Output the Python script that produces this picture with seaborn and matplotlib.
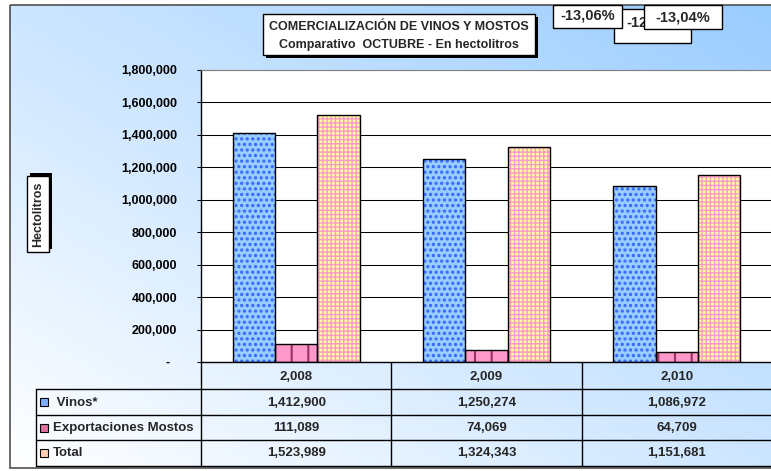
import numpy as np
import pandas as pd
import seaborn as sns
import matplotlib.pyplot as plt
from matplotlib.patches import Rectangle
from matplotlib.ticker import FuncFormatter

years = [2008, 2009, 2010]
series = ['Vinos*', 'Exportaciones Mostos', 'Total']
vinos = [1412900, 1250274, 1086972]
mostos = [111089, 74069, 64709]
total = [1523989, 1324343, 1151681]
variaciones = ['-13,06%', '-12', '-13,04%']

fill_cols = ['#99CCFF', '#FF99CC', '#FFFF99']
hatch_cols = ['#3366FF', '#993366', '#FF99CC']
key_cols = ['#7FAEFF', '#E0709F', '#FFCCB0']
hatches = ['...', '|', '++++']
hatch_lw = [1.5, 1.5, 1.0]

sns.set_style('ticks')
plt.rcParams['font.family'] = ['Liberation Sans', 'DejaVu Sans']
plt.rcParams['font.weight'] = 'bold'
plt.rcParams['hatch.linewidth'] = 1.5

W, H = 771, 471
fig = plt.figure(figsize=(W/100, H/100), dpi=100)

# background (chart area) in pixel coords
bg = fig.add_axes([0, 0, 1, 1], zorder=-10)
bg.set_xlim(0, W)
bg.set_ylim(H, 0)
bg.axis('off')
gx = np.linspace(0, 1, 200)
gy = np.linspace(1, 0, 200)
t = (gx[None, :] + gy[:, None]) / 2
blue = np.array([0x99, 0xCC, 0xFF]) / 255
grad = (1 - t[..., None]) * np.ones(3) + t[..., None] * blue
bg.imshow(grad, extent=(10, 790, 468, 5), aspect='auto', interpolation='bilinear')
bg.add_patch(Rectangle((10, 5), 780, 463, fill=False, ec='#505050', lw=1.2))

# plot
ax = fig.add_axes([201/W, (H-362)/H, 571/W, 292/H])
rows = []
for name, vals in zip(series, [vinos, mostos, total]):
    for y, v in zip(years, vals):
        rows.append({'year': f'{y:,}', 'serie': name, 'value': v})
df = pd.DataFrame(rows)

sns.barplot(data=df, x='year', y='value', hue='serie', hue_order=series,
            order=[f'{y:,}' for y in years], palette=fill_cols, saturation=1,
            width=0.667, errorbar=None, legend=False, ax=ax)

bars = list(ax.patches)
for k, p in enumerate(bars):
    j = k // len(years)
    p.set_hatch(hatches[j])
    p.set_edgecolor(hatch_cols[j])
    p.set_linewidth(0)
    if hasattr(p, 'set_hatch_linewidth'):
        p.set_hatch_linewidth(hatch_lw[j])
    ax.add_patch(Rectangle(p.get_xy(), p.get_width(), p.get_height(), fill=False,
                           ec='black', lw=1, zorder=p.get_zorder() + 0.1))

ax.set_xlim(-0.5, len(years) - 0.5)
ax.set_ylim(0, 1800000)
ax.set_yticks(np.arange(0, 1800001, 200000))
ax.yaxis.set_major_formatter(FuncFormatter(lambda v, pos: '-\u00a0\u00a0' if v == 0 else f'{v:,.0f}'))
ax.yaxis.grid(True, color='black', lw=0.75)
ax.set_axisbelow(True)
ax.set_facecolor('white')
ax.set_xlabel('')
ax.set_ylabel('')
ax.tick_params(axis='x', bottom=False, labelbottom=False)
ax.tick_params(axis='y', direction='out', length=3, width=0.75, pad=14, labelsize=9, colors='black')
for lab in ax.get_yticklabels():
    lab.set_fontweight('bold')
ax.spines['right'].set_visible(False)
ax.spines['top'].set_color('#808080')
ax.spines['left'].set_color('black')
ax.spines['bottom'].set_color('black')
ax.spines['left'].set_linewidth(1)
ax.spines['bottom'].set_linewidth(1)

# data table below the plot
def px(v):
    return ax.transData.transform((v, 0))[0]

xb = [px(i - 0.5) for i in range(len(years) + 1)]
row_y = [362, 389, 415, 440, 466]
for y in row_y[1:]:
    bg.plot([36, W + 5], [y, y], color='black', lw=1, zorder=3)
for x in xb:
    bg.plot([x, x], [row_y[0], row_y[-1]], color='black', lw=1, zorder=3)
bg.plot([36, 36], [row_y[1], row_y[-1]], color='black', lw=1, zorder=3)

tfs = 9.5
for i, y in enumerate(years):
    bg.text((xb[i] + xb[i+1]) / 2, (row_y[0] + row_y[1]) / 2 + 1, f'{y:,}',
            ha='center', va='center', fontsize=tfs, fontweight='bold')
for r, (name, vals) in enumerate(zip(series, [vinos, mostos, total])):
    yc = (row_y[r+1] + row_y[r+2]) / 2
    bg.add_patch(Rectangle((40, yc - 4), 8, 8, fc=key_cols[r], ec='black', lw=0.8, zorder=4))
    label = ' ' + name if r == 0 else name
    bg.text(53, yc + 0.5, label, ha='left', va='center', fontsize=tfs, fontweight='bold')
    for i, v in enumerate(vals):
        bg.text((xb[i] + xb[i+1]) / 2, yc + 0.5, f'{v:,}', ha='center', va='center',
                fontsize=tfs, fontweight='bold')

# y label box
bg.add_patch(Rectangle((30, 173), 22, 76, fc='black', ec='black', lw=0, zorder=4))
bg.add_patch(Rectangle((27, 176), 22, 76, fc='white', ec='black', lw=1, zorder=5))
bg.text(38.5, 214, 'Hectolitros', rotation=90, ha='center', va='center',
        fontsize=9, fontweight='bold', zorder=6)

# title box
bg.add_patch(Rectangle((266, 17), 272, 41, fc='black', lw=0, zorder=4))
bg.add_patch(Rectangle((263, 14), 272, 41, fc='white', ec='black', lw=1, zorder=5))
bg.text(399, 27, 'COMERCIALIZACIÓN DE VINOS Y MOSTOS', ha='center', va='center',
        fontsize=9, fontweight='bold', zorder=6)
bg.text(399, 45, 'Comparativo  OCTUBRE - En hectolitros', ha='center', va='center',
        fontsize=9, fontweight='bold', zorder=6)

# variation boxes
vfs = 10.5
bg.add_patch(Rectangle((614, 9), 77, 34, fc='white', ec='black', lw=1, zorder=5))
bg.text(626, 23, variaciones[1], ha='left', va='center', fontsize=vfs, fontweight='bold', zorder=6)
bg.add_patch(Rectangle((553, 5), 69, 23, fc='white', ec='black', lw=1, zorder=7))
bg.text(587.5, 16, variaciones[0], ha='center', va='center', fontsize=vfs, fontweight='bold', zorder=8)
bg.add_patch(Rectangle((644, 5), 78, 24, fc='white', ec='black', lw=1, zorder=9))
bg.text(683, 17, variaciones[2], ha='center', va='center', fontsize=vfs, fontweight='bold', zorder=10)

fig.savefig('out.png', dpi=100)
